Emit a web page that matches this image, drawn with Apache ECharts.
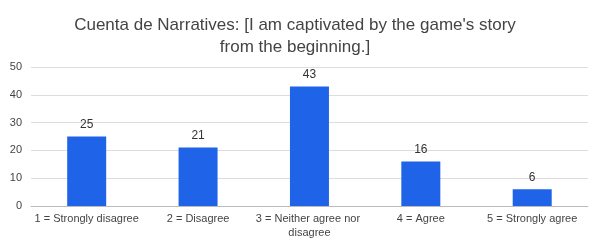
<!DOCTYPE html>
<html>
<head>
<meta charset="utf-8">
<script src="https://cdn.jsdelivr.net/npm/echarts@6/dist/echarts.min.js"></script>
<style>
  html, body { margin: 0; padding: 0; background: #fff; }
  #main { width: 590px; height: 240px; }
</style>
</head>
<body>
<div id="main"></div>
<script>
// data
var categories = ["1 = Strongly disagree", "2 = Disagree", "3 = Neither agree nor disagree", "4 = Agree", "5 = Strongly agree"];
var counts = [25, 21, 43, 16, 6];
var yTicks = [0, 10, 20, 30, 40, 50];

var myChart = echarts.init(document.getElementById('main'));

var option = {
    animation: false,
    title: {
        text: "Cuenta de Narratives: [I am captivated by the game's story\nfrom the beginning.]",
        left: 'center',
        top: 9,
        textStyle: {
            fontFamily: 'Liberation Sans',
            fontSize: 17,
            fontWeight: 'normal',
            color: '#444',
            lineHeight: 22
        }
    },
    grid: {
        left: 31,
        right: 0,
        top: 67,
        bottom: 34
    },
    xAxis: {
        type: 'category',
        data: categories,
        axisTick: { show: false },
        axisLine: { lineStyle: { color: '#bbb' } },
        axisLabel: {
            interval: 0,
            margin: 6,
            width: 110,
            overflow: 'break',
            fontFamily: 'Liberation Sans',
            fontSize: 11,
            lineHeight: 14,
            color: '#444'
        }
    },
    yAxis: {
        type: 'value',
        min: yTicks[0],
        max: yTicks[yTicks.length - 1],
        interval: 10,
        axisLabel: {
            margin: 9,
            fontFamily: 'Liberation Sans',
            fontSize: 11,
            color: '#444'
        },
        splitLine: { lineStyle: { color: '#ddd' } }
    },
    series: [{
        type: 'bar',
        data: counts,
        barWidth: 39,
        itemStyle: { color: '#1f63e8' },
        label: {
            show: true,
            position: 'top',
            distance: 6,
            fontFamily: 'Liberation Sans',
            fontSize: 12,
            color: '#333'
        }
    }]
};

myChart.setOption(option);
</script>
</body>
</html>
